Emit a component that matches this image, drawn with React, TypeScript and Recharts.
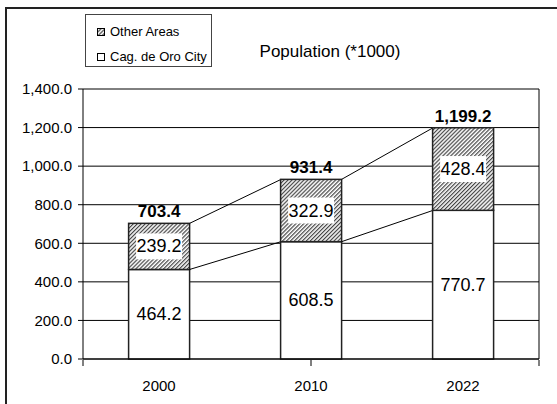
import React from 'react';
import { BarChart, Bar, XAxis, YAxis, CartesianGrid, LabelList, Legend } from 'recharts';

const years = ['2000', '2010', '2022'];
const cityPop = [464.2, 608.5, 770.7];
const otherPop = [239.2, 322.9, 428.4];
const totalPop = [703.4, 931.4, 1199.2];
const yTicks = [0, 200, 400, 600, 800, 1000, 1200, 1400];
const edgeTicks = [0, 1, 2, 3];

const data = years.map((year, i) => ({
  year,
  city: cityPop[i],
  other: otherPop[i],
  total: totalPop[i],
}));

const FONT = '"Liberation Sans", Arial, sans-serif';
const GAP = 0.3;

const fmt = (v: number) =>
  Number(v).toLocaleString('en-US', { minimumFractionDigits: 1, maximumFractionDigits: 1 });

// hatched segment plus the series lines joining it to the next column
const OtherShape = (props: any) => {
  const { x, y, width, height, index } = props;
  const ppu = height / otherPop[index];
  const cityTop = y + height;
  const base = cityTop + cityPop[index] * ppu;
  const next = index + 1;
  const step = width / (1 - 2 * GAP);
  return (
    <g>
      <rect x={x} y={y} width={width} height={height} fill="url(#hatch)" stroke="#222" strokeWidth={1.5} />
      {next < years.length && (
        <g stroke="#000" strokeWidth={1}>
          <line x1={x + width} y1={cityTop} x2={x + step} y2={base - cityPop[next] * ppu} />
          <line
            x1={x + width}
            y1={y}
            x2={x + step}
            y2={base - (cityPop[next] + otherPop[next]) * ppu}
          />
        </g>
      )}
    </g>
  );
};

const boxedLabel = (props: any) => {
  const { x, y, width, height, value } = props;
  const cx = x + width / 2;
  const cy = y + height / 2;
  return (
    <g>
      <rect x={cx - 23} y={cy - 13} width={46} height={26} fill="#fff" />
      <text
        x={cx}
        y={cy}
        textAnchor="middle"
        dominantBaseline="central"
        fontFamily={FONT}
        fontSize={18}
        fill="#000"
      >
        {fmt(value)}
      </text>
    </g>
  );
};

const LegendBox = () => (
  <div
    style={{
      border: '1px solid #444',
      background: '#fff',
      width: 127,
      height: 53,
      boxSizing: 'border-box',
      fontFamily: FONT,
      fontSize: 13,
      color: '#000',
      paddingLeft: 11,
      paddingTop: 4,
    }}
  >
    {[
      { name: 'Other Areas', fill: 'url(#hatch)' },
      { name: 'Cag. de Oro City', fill: '#fff' },
    ].map((item) => (
      <div key={item.name} style={{ display: 'flex', alignItems: 'center', height: 25 }}>
        <svg width={8} height={8} style={{ marginRight: 5 }}>
          <rect x={0.5} y={0.5} width={7} height={7} fill={item.fill} stroke="#000" strokeWidth={1} />
        </svg>
        <span>{item.name}</span>
      </div>
    ))}
  </div>
);

const noTick = () => <g />;

export default function App() {
  return (
    <div
      style={{
        position: 'absolute',
        left: 0,
        top: 0,
        width: 557,
        height: 404,
        overflow: 'hidden',
        background: '#fff',
      }}
    >
      <div
        style={{
          position: 'absolute',
          left: 5,
          top: 7,
          width: 600,
          height: 500,
          borderLeft: '2px solid #222',
          borderTop: '2px solid #222',
        }}
      />
      <div style={{ position: 'absolute', left: 0, top: 0 }}>
        <BarChart
          width={557}
          height={404}
          data={data}
          margin={{ top: 89, right: 17, bottom: 43, left: 0 }}
          barCategoryGap={`${GAP * 100}%`}
        >
          <defs>
            <pattern
              id="hatch"
              width={2.8}
              height={2.8}
              patternUnits="userSpaceOnUse"
              patternTransform="rotate(45)"
            >
              <rect width={2.8} height={2.8} fill="#fff" />
              <line x1={0.6} y1={0} x2={0.6} y2={2.8} stroke="#444" strokeWidth={1.2} />
            </pattern>
          </defs>
          <text x={330} y={57} textAnchor="middle" fontFamily={FONT} fontSize={17} fill="#000">
            Population (*1000)
          </text>
          <CartesianGrid vertical={false} stroke="#000" strokeWidth={1} />
          <XAxis
            dataKey="year"
            height={1}
            axisLine={{ stroke: '#000' }}
            tickLine={false}
            tickSize={0}
            tickMargin={21}
            tick={{ fontFamily: FONT, fontSize: 15, fill: '#000' }}
          />
          <XAxis
            xAxisId="edges"
            type="number"
            domain={[0, 3]}
            ticks={edgeTicks}
            height={1}
            axisLine={false}
            tick={noTick}
            tickSize={6}
            tickLine={{ stroke: '#000' }}
          />
          <YAxis
            width={83}
            domain={[0, 1400]}
            ticks={yTicks}
            tickFormatter={fmt}
            axisLine={{ stroke: '#000' }}
            tickLine={{ stroke: '#000' }}
            tickSize={5}
            tickMargin={6}
            tick={{ fontFamily: FONT, fontSize: 15, fill: '#000' }}
          />
          <YAxis
            yAxisId="frame"
            orientation="right"
            width={1}
            domain={[0, 1400]}
            tick={false}
            tickLine={false}
            axisLine={{ stroke: '#000' }}
          />
          <Legend
            layout="vertical"
            align="center"
            verticalAlign="middle"
            content={() => <LegendBox />}
            wrapperStyle={{ left: 85, top: 14, width: 127, height: 53 }}
          />
          <Bar dataKey="city" stackId="pop" fill="#fff" stroke="#222" strokeWidth={1.5} isAnimationActive={false}>
            <LabelList dataKey="city" position="center" content={boxedLabel} />
          </Bar>
          <Bar dataKey="other" stackId="pop" shape={OtherShape} isAnimationActive={false}>
            <LabelList dataKey="other" position="center" content={boxedLabel} />
            <LabelList
              dataKey="total"
              position="top"
              offset={6}
              formatter={fmt}
              fontFamily={FONT}
              fontSize={17}
              fontWeight="bold"
              fill="#000"
            />
          </Bar>
        </BarChart>
      </div>
    </div>
  );
}
